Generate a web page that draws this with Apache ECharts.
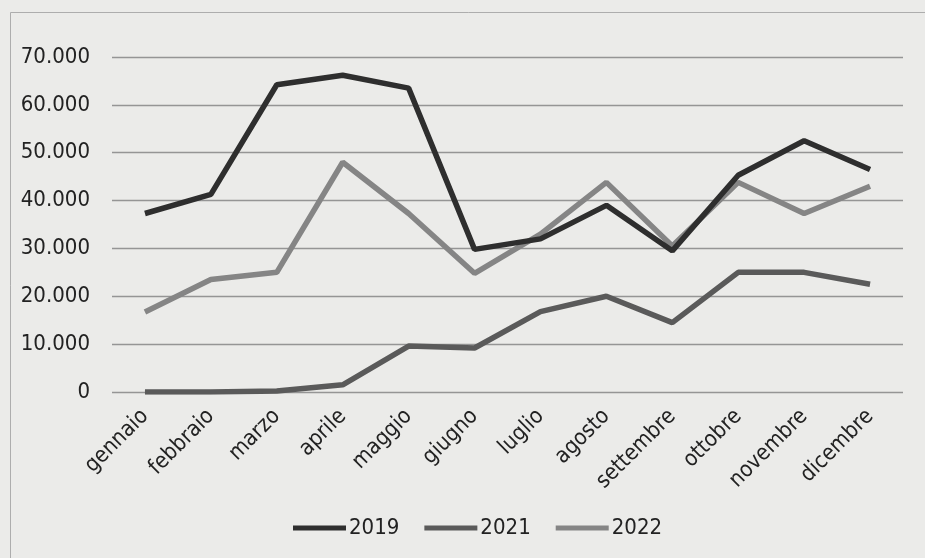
<!DOCTYPE html>
<html>
<head>
<meta charset="utf-8">
<script src="https://cdn.jsdelivr.net/npm/echarts@6/dist/echarts.min.js"></script>
<style>
  html, body { margin: 0; padding: 0; background: #ebebe9; }
  #chart { width: 925px; height: 558px; }
</style>
</head>
<body>
<div id="chart"></div>
<script>
// Mesi dell'anno
const months = ['gennaio', 'febbraio', 'marzo', 'aprile', 'maggio', 'giugno',
  'luglio', 'agosto', 'settembre', 'ottobre', 'novembre', 'dicembre'];

// Valori mensili per anno
const values2019 = [37300, 41300, 64200, 66200, 63500, 29800, 32000, 39000, 29500, 45300, 52500, 46500];
const values2021 = [0, 0, 200, 1500, 9600, 9200, 16800, 20000, 14500, 25000, 25000, 22500];
const values2022 = [16700, 23500, 25000, 48000, 37300, 24800, 33000, 43800, 30500, 43800, 37300, 43000];

const seriesNames = ['2019', '2021', '2022'];
const seriesColors = ['#2e2e2e', '#5a5a5a', '#858585'];

const fontFamily = '"DejaVu Sans Condensed", "DejaVu Sans", sans-serif';

function fmt(v) {
  return String(v).replace(/\B(?=(\d{3})+(?!\d))/g, '.');
}

const chart = echarts.init(document.getElementById('chart'), null, { renderer: 'canvas' });

const dataSets = [values2019, values2021, values2022];

chart.setOption({
  backgroundColor: '#ebebe9',
  animation: false,
  graphic: [{
    type: 'rect',
    shape: { x: 10.5, y: 12.5, width: 930, height: 560 },
    style: { fill: 'none', stroke: '#adadad', lineWidth: 1 },
    silent: true
  }],
  grid: { left: 112, right: 22, top: 57, bottom: 166, containLabel: false },
  xAxis: {
    type: 'category',
    data: months,
    boundaryGap: true,
    axisLine: { show: false },
    axisTick: { show: false },
    axisLabel: {
      rotate: 45,
      margin: 21,
      color: '#222',
      fontFamily: fontFamily,
      fontSize: 22,
      interval: 0
    },
    splitLine: { show: false }
  },
  yAxis: {
    type: 'value',
    min: 0,
    max: 70000,
    interval: 10000,
    axisLine: { show: false },
    axisTick: { show: false },
    axisLabel: {
      margin: 22,
      color: '#222',
      fontFamily: fontFamily,
      fontSize: 22,
      formatter: fmt
    },
    splitLine: { lineStyle: { color: '#959595', width: 1.3 } }
  },
  legend: {
    top: 517,
    left: 293,
    padding: 0,
    itemWidth: 53,
    itemHeight: 5,
    itemGap: 25,
    icon: 'rect',
    textStyle: { color: '#222', fontFamily: fontFamily, fontSize: 22, padding: [0, 0, 0, -2] },
    data: seriesNames
  },
  series: seriesNames.map((name, i) => ({
    name: name,
    type: 'line',
    data: dataSets[i],
    symbol: 'none',
    color: seriesColors[i],
    lineStyle: { width: 5.5, color: seriesColors[i] },
    z: 3 - i
  }))
});
</script>
</body>
</html>
